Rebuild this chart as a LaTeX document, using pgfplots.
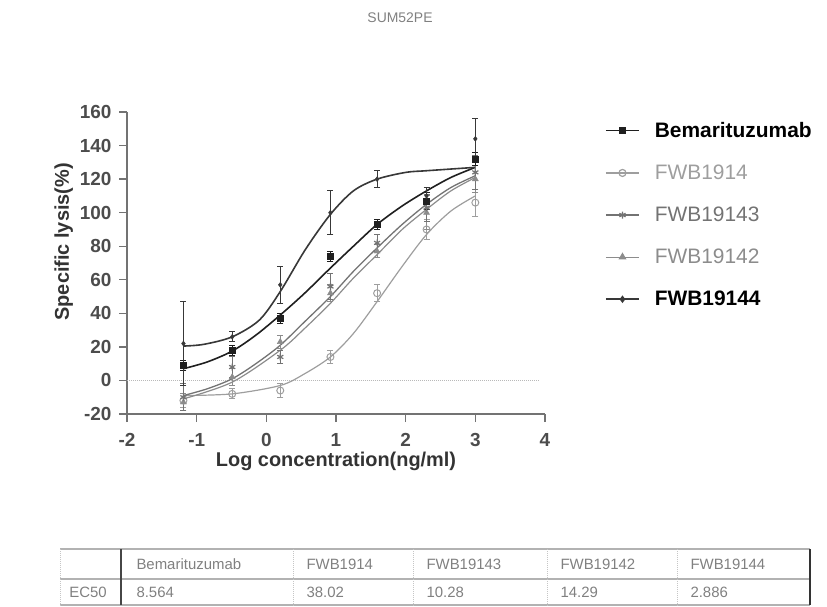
\documentclass[border=0pt]{standalone}
\usepackage{pgfplots}
\pgfplotsset{compat=1.18}
\usepackage{fontspec}
\setmainfont{Liberation Sans}
\definecolor{cBem}{gray}{0.12}
\definecolor{cF14}{gray}{0.62}
\definecolor{cF143}{gray}{0.45}
\definecolor{cF142}{gray}{0.55}
\definecolor{cF144}{gray}{0.22}
\definecolor{axgray}{gray}{0.45}
\definecolor{txgray}{gray}{0.5}
\begin{document}
\begin{tikzpicture}[x=1bp,y=1bp]
\path[use as bounding box] (0,0) rectangle (827,-607);
\node[text=txgray, font=\fontsize{14}{16}\selectfont] at (400,-18) {SUM52PE};
\begin{axis}[
  at={(127bp,-414bp)}, anchor=south west,
  scale only axis, width=418bp, height=302bp,
  xmin=-2, xmax=4, ymin=-20, ymax=160,
  axis lines=left,
  axis line style={axgray, line width=2.2bp, -},
  xtick={-2,-1,0,1,2,3,4}, ytick={-20,0,20,40,60,80,100,120,140,160},
  tick style={axgray, line width=1.4bp}, tick align=outside, major tick length=8bp,
  tick label style={font=\fontsize{19}{21}\selectfont\bfseries, text=black!70},
  xticklabel style={yshift=-8bp},
  yticklabel style={xshift=-4bp},
  /pgf/number format/assume math mode=true,
  xlabel={Log concentration(ng/ml)}, ylabel={Specific lysis(\%)},
  label style={font=\fontsize{20}{22}\selectfont\bfseries, text=black!80},
  xlabel style={yshift=2bp},
  ylabel style={at={(ticklabel cs:0.57)}},
  clip=false,
  legend style={draw=none, fill=none, at={(1.1435,0.97)}, anchor=north west,
    font=\fontsize{21}{23}\selectfont, row sep=24bp, inner sep=0pt,
    nodes={inner sep=1pt},
    /tikz/every odd column/.append style={column sep=14bp}},
  legend cell align=left,
  legend image code/.code={\draw[mark repeat=2,mark phase=2,#1] plot coordinates {(0bp,0bp) (16.5bp,0bp) (33bp,0bp)};},
  error bars/error bar style={line width=1bp},
  error bars/error mark options={rotate=90, mark size=3bp, line width=1bp},
]
% zero reference line
\addplot[forget plot, gray!55, densely dotted, line width=1bp] coordinates {(-2,0) (3.93,0)};

% fitted curves
\addplot[forget plot, smooth, cF14, line width=1.2bp] coordinates {
(-1.19,-9) (-0.49,-8) (0.2,-3) (0.55,4) (0.92,14) (1.25,28) (1.59,47) (1.95,68) (2.3,87) (2.65,101) (3.0,110)};
\addplot[forget plot, smooth, cF142, line width=1.2bp] coordinates {
(-1.19,-11) (-0.49,-1) (0.2,18) (0.55,31) (0.92,46) (1.25,61) (1.59,75) (1.95,90) (2.3,102) (2.65,113) (3.0,121)};
\addplot[forget plot, smooth, cF143, line width=1.3bp] coordinates {
(-1.19,-9) (-0.85,-5) (-0.49,1) (-0.15,10) (0.2,21) (0.55,35) (0.92,50) (1.25,65) (1.59,79) (1.95,93) (2.3,105) (2.65,115) (3.0,122)};
\addplot[forget plot, smooth, cBem, line width=1.6bp] coordinates {
(-1.19,7) (-0.85,11) (-0.49,17.5) (-0.15,27) (0.2,39) (0.55,52) (0.92,67) (1.25,80) (1.59,93) (1.95,104) (2.3,113) (2.65,121) (3.0,127)};
\addplot[forget plot, smooth, cF144, line width=1.6bp] coordinates {
(-1.19,20.5) (-0.9,21.5) (-0.49,26) (-0.1,36) (0.2,53) (0.56,78) (0.92,99) (1.25,113) (1.59,120) (2.0,124) (2.3,125) (3.0,127)};

% measured points with error bars
\addplot[forget plot, only marks, cF14, mark=o, mark size=3.5bp, mark options={line width=1bp},
  error bars/.cd, y dir=both, y explicit] coordinates {
(-1.19,-12) +- (0,4) (-0.49,-8) +- (0,3) (0.2,-6) +- (0,4) (0.92,14) +- (0,4) (1.59,52) +- (0,5) (2.3,90) +- (0,6) (3.0,106) +- (0,8)};
\addplot[forget plot, only marks, cF142, mark=triangle*, mark size=3.5bp,
  error bars/.cd, y dir=both, y explicit] coordinates {
(-1.19,-13) +- (0,5) (-0.49,2) +- (0,5) (0.2,23) +- (0,4) (0.92,52) +- (0,5) (1.59,77) +- (0,4) (2.3,100) +- (0,10) (3.0,120) +- (0,8)};
\addplot[forget plot, only marks, cF143, mark=asterisk, mark size=3.5bp, mark options={line width=1.2bp},
  error bars/.cd, y dir=both, y explicit] coordinates {
(-1.19,-10) +- (0,8) (-0.49,8) +- (0,6) (0.2,14) +- (0,4) (0.92,56) +- (0,8) (1.59,82) +- (0,5) (2.3,103) +- (0,8) (3.0,124) +- (0,10)};
\addplot[forget plot, only marks, cBem, mark=square*, mark size=3bp,
  error bars/.cd, y dir=both, y explicit] coordinates {
(-1.19,9) +- (0,3) (-0.49,18) +- (0,3) (0.2,37) +- (0,3) (0.92,74) +- (0,3) (1.59,93) +- (0,3) (2.3,107) +- (0,5) (3.0,132) +- (0,4)};
\addplot[forget plot, only marks, cF144, mark=diamond*, mark size=2.5bp,
  error bars/.cd, y dir=both, y explicit] coordinates {
(-1.19,22) +- (0,25) (-0.49,26) +- (0,3) (0.2,57) +- (0,11) (0.92,100) +- (0,13) (1.59,120) +- (0,5) (2.3,110) +- (0,5) (3.0,144) +- (0,12)};

\addlegendimage{cBem, line width=1.6bp, mark=square*, mark size=3bp}
\addlegendimage{cF14, line width=1.2bp, mark=o, mark size=3.5bp}
\addlegendimage{cF143, line width=1.3bp, mark=asterisk, mark size=3.5bp}
\addlegendimage{cF142, line width=1.2bp, mark=triangle*, mark size=3.5bp}
\addlegendimage{cF144, line width=1.6bp, mark=diamond*, mark size=2.5bp}
\legend{\textbf{Bemarituzumab}, \textcolor{cF14}{FWB1914}, \textcolor{cF143}{FWB19143}, \textcolor{cF142}{FWB19142}, \textbf{FWB19144}}
\end{axis}

% EC50 table
\begin{scope}[font=\fontsize{15}{17}\selectfont, text=txgray]
\draw[gray!60, line width=1.5bp] (60,-549) -- (810,-549);
\draw[gray!60, line width=1.5bp] (60,-579) -- (810,-579);
\draw[gray!60, line width=1.5bp] (60,-605) -- (810,-605);
\foreach \xx in {60,293,413,547,677} {\draw[gray!45, line width=1bp, densely dotted] (\xx,-549) -- (\xx,-605);}
\draw[gray!55!black, line width=1.5bp] (121,-549) -- (121,-605);
\draw[gray!40!black, line width=1.8bp] (810,-549) -- (810,-605);
\node[anchor=west] at (133,-564) {Bemarituzumab};
\node[anchor=west] at (303,-564) {FWB1914};
\node[anchor=west] at (423,-564) {FWB19143};
\node[anchor=west] at (557,-564) {FWB19142};
\node[anchor=west] at (687,-564) {FWB19144};
\node at (88,-592) {EC50};
\node[anchor=west] at (133,-592) {8.564};
\node[anchor=west] at (303,-592) {38.02};
\node[anchor=west] at (423,-592) {10.28};
\node[anchor=west] at (557,-592) {14.29};
\node[anchor=west] at (687,-592) {2.886};
\end{scope}
\end{tikzpicture}
\end{document}
